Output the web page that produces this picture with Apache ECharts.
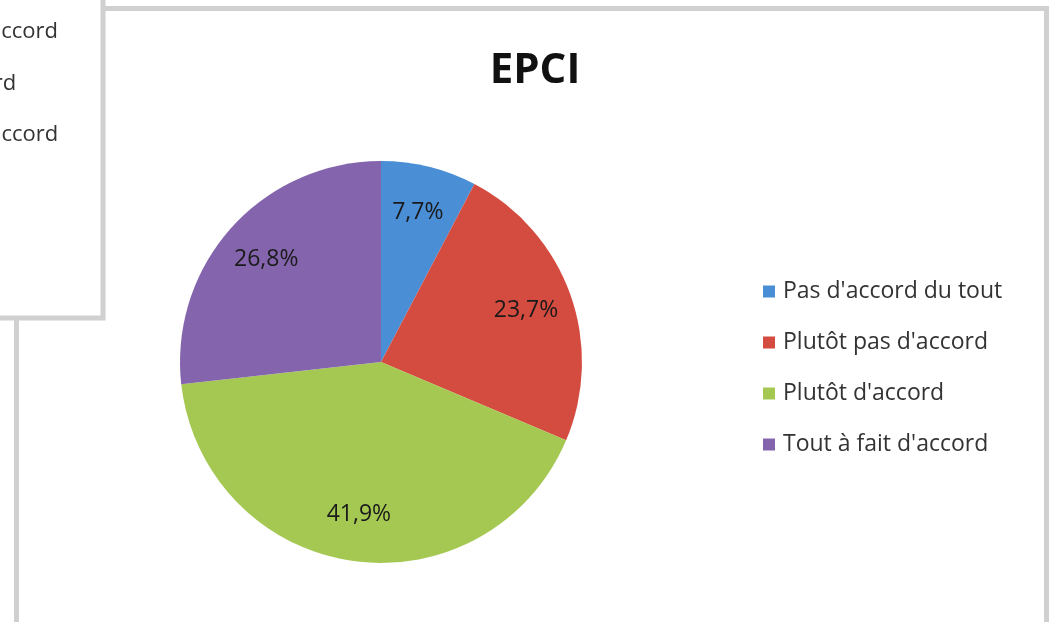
<!DOCTYPE html>
<html>
<head>
<meta charset="utf-8">
<title>EPCI</title>
<script src="https://cdn.jsdelivr.net/npm/echarts@6/dist/echarts.min.js"></script>
<style>
  html, body { margin: 0; padding: 0; background: #fff; }
  #chart { width: 1050px; height: 622px; }
</style>
</head>
<body>
<div id="chart"></div>
<script>
// answers and their shares (%)
const categories = ["Pas d'accord du tout", "Plutôt pas d'accord", "Plutôt d'accord", "Tout à fait d'accord"];
const shares = [7.7, 23.7, 41.9, 26.8];
const sliceColors = ['#4a8ed6', '#d44b3f', '#a5c853', '#8465ad'];
// legend lines of the neighbouring chart, cut off at the left edge
const sideLegend = ["Plutôt pas d'accord", "Plutôt d'accord", "Tout à fait d'accord"];

const font = '"Open Sans", "Noto Sans", sans-serif';
const pieData = categories.map((name, i) => ({ name, value: shares[i], itemStyle: { color: sliceColors[i] } }));
const fmt = (p) => p.value.toFixed(1).replace('.', ',') + '%';

// left-aligned side legend: its longest line ends at x = 58
const sideSize = 22;
const ctx = document.createElement('canvas').getContext('2d');
ctx.font = sideSize + 'px ' + font;
const sideX = 58 - ctx.measureText(sideLegend[0]).width;

const chart = echarts.init(document.getElementById('chart'));

chart.setOption({
  backgroundColor: '#fff',
  animation: false,
  title: {
    text: 'EPCI',
    left: 530,
    top: 45,
    textAlign: 'center',
    textStyle: { fontFamily: font, fontWeight: 'bold', fontSize: 42, color: '#111' }
  },
  legend: {
    orient: 'vertical',
    left: 758,
    top: 275,
    itemWidth: 12,
    itemHeight: 12,
    itemGap: 28,
    icon: 'rect',
    data: categories,
    textStyle: { fontFamily: font, fontSize: 23, color: '#333', padding: [0, 0, 0, 3] }
  },
  graphic: [
    // main chart frame
    {
      type: 'rect', z: 1,
      shape: { x: 16.5, y: 8.5, width: 1030, height: 700 },
      style: { fill: 'none', stroke: '#d0d0d0', lineWidth: 5 }
    },
    // neighbouring chart frame, on top
    {
      type: 'rect', z: 5,
      shape: { x: -20, y: -20, width: 123, height: 338 },
      style: { fill: '#fff', stroke: '#d0d0d0', lineWidth: 5 }
    },
    ...sideLegend.map((t, i) => ({
      type: 'text', z: 6,
      x: sideX, y: 32 + i * 51.5,
      style: { text: t, fontFamily: font, fontSize: sideSize, fill: '#333', align: 'left', verticalAlign: 'middle' }
    }))
  ],
  series: [
    {
      type: 'pie',
      center: [381, 362],
      radius: 201,
      startAngle: 90,
      clockwise: true,
      silent: true,
      label: { show: false },
      labelLine: { show: false },
      data: pieData
    },
    {
      // transparent ring used only to place the labels at ~3/4 radius
      type: 'pie',
      center: [381, 362],
      radius: 302,
      startAngle: 90,
      clockwise: true,
      silent: true,
      legendHoverLink: false,
      itemStyle: { color: 'rgba(0,0,0,0)' },
      label: {
        show: true,
        position: 'inside',
        formatter: fmt,
        fontFamily: font,
        fontSize: 23,
        color: '#1a1a1a'
      },
      labelLine: { show: false },
      data: categories.map((name, i) => ({ name, value: shares[i] }))
    }
  ]
});

window.addEventListener('resize', () => chart.resize());
</script>
</body>
</html>
